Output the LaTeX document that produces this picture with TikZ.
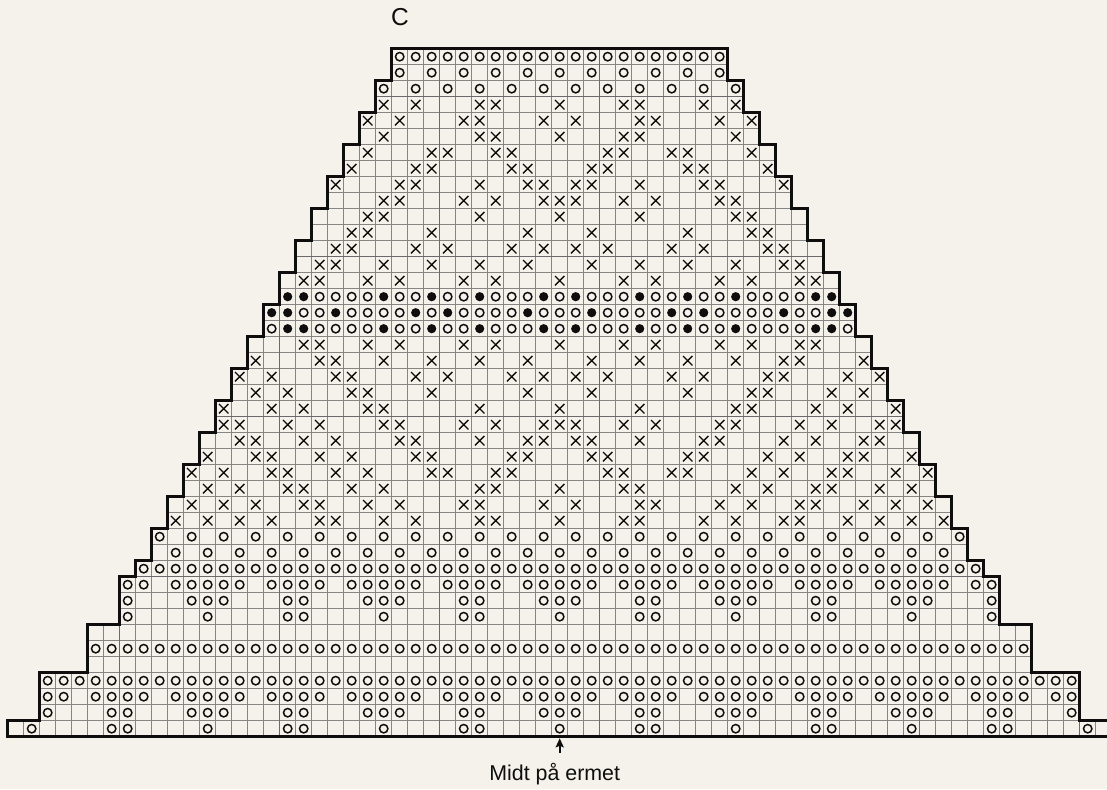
\documentclass[tikz,border=0pt]{standalone}
\usepackage{fontspec}
\setmainfont{Liberation Sans}
\usetikzlibrary{arrows.meta}
\definecolor{paper}{HTML}{F4F2EA}
\definecolor{gridgray}{HTML}{858583}
\definecolor{gridbold}{HTML}{6A6A6A}
\definecolor{ink}{HTML}{0E0E0E}
\tikzset{
  thingrid/.style={draw=gridgray,line width=1pt},
  boldgrid/.style={draw=gridbold,line width=1.4pt},
  outline/.style={draw=ink,line width=3.4pt,line join=miter},
  ringsym/.style={draw=ink,line width=1.5pt},
  crosssym/.style={draw=ink,line width=1.3pt},
  dotsym/.style={fill=ink,draw=none},
  label/.style={text=ink,font=\fontsize{21.4pt}{25pt}\selectfont,inner sep=0pt,anchor=base},
}
\newcommand\OO[2]{\foreach \cc in {#2}{\draw[ringsym] (\cc+.5,#1+.5) circle[radius=4.2pt];}}
\newcommand\BB[2]{\foreach \cc in {#2}{\fill[dotsym] (\cc+.5,#1+.5) circle[radius=4.6pt];}}
\newcommand\XX[2]{\foreach \cc in {#2}{\draw[crosssym] (\cc+.5,#1+.5) +(-4.7pt,-4.7pt) -- +(4.7pt,4.7pt) +(-4.7pt,4.7pt) -- +(4.7pt,-4.7pt);}}
\begin{document}
\begin{tikzpicture}[x=1pt,y=1pt]
\useasboundingbox (0,0) rectangle (1107,789);
\fill[paper] (0,0) rectangle (1107,789);
\clip (0,0) rectangle (1107,789);
\begin{scope}[shift={(7.7pt,52.3pt)},x=16pt,y=16pt]
% thin grid, row by row: row number / left edge of the row
\foreach \r/\L in {0/0,1/2,2/2,3/2,4/5,5/5,6/5,7/7,8/7,9/7,10/8,11/9,12/9,13/10,14/10,15/11,16/11,17/12,18/12,19/13,20/13,21/14,22/14,23/15,24/15,25/16,26/16,27/17,28/17,29/18,30/18,31/19,32/19,33/20,34/20,35/21,36/21,37/22,38/22,39/23,40/23,41/24,42/24}{
  \pgfmathtruncatemacro\RR{69-\L}
  \pgfmathtruncatemacro\Top{\r+1}
  \draw[thingrid] (\L,\Top) -- (\RR,\Top);
  \foreach \k in {\L,...,\RR}{\draw[thingrid] (\k,\r) -- (\k,\Top);}
}
% every tenth line
\foreach \k/\t in {7/10,17/29,27/43,37/43,47/39,57/19,67/4}{\draw[boldgrid] (\k,0) -- (\k,\t);}
\foreach \h/\a/\b in {10/7/62,20/13/56,30/18/51,40/23/46}{\draw[boldgrid,line width=1.15pt] (\a,\h) -- (\b,\h);}
% symbols
\OO{0}{1,6,7,12,17,18,23,28,29,34,39,40,45,50,51,56,61,62,67}
\OO{1}{2,6,7,11,12,13,17,18,22,23,24,28,29,33,34,35,39,40,44,45,46,50,51,55,56,57,61,62,66}
\OO{2}{2,3,5,6,7,8,10,11,12,13,14,16,17,18,19,21,22,23,24,25,27,28,29,30,32,33,34,35,36,38,39,40,41,43,44,45,46,47,49,50,51,52,54,55,56,57,58,60,61,62,63,65,66}
\OO{3}{2,3,...,66}
\OO{5}{5,6,...,63}
\OO{7}{7,12,17,18,23,28,29,34,39,40,45,50,51,56,61}
\OO{8}{7,11,12,13,17,18,22,23,24,28,29,33,34,35,39,40,44,45,46,50,51,55,56,57,61}
\OO{9}{7,8,10,11,12,13,14,16,17,18,19,21,22,23,24,25,27,28,29,30,32,33,34,35,36,38,39,40,41,43,44,45,46,47,49,50,51,52,54,55,56,57,58,60,61}
\OO{10}{8,9,...,60}
\OO{11}{10,12,...,58}
\OO{12}{9,11,...,59}
\XX{13}{10,12,14,16,19,20,23,25,29,30,34,38,39,43,45,48,49,52,54,56,58}
\XX{14}{11,13,15,18,19,22,24,28,29,33,35,39,40,44,46,49,50,53,55,57}
\XX{15}{12,14,17,18,21,23,29,30,34,38,39,45,47,50,51,54,56}
\XX{16}{11,13,16,17,20,22,26,27,30,31,37,38,41,42,46,48,51,52,55,57}
\XX{17}{12,15,16,19,21,25,26,31,32,36,37,42,43,47,49,52,53,56}
\XX{18}{14,15,18,20,24,25,29,32,33,35,36,39,43,44,48,50,53,54}
\XX{19}{13,14,17,19,23,24,28,30,33,34,35,38,40,44,45,49,51,54,55}
\XX{20}{13,16,18,22,23,29,34,39,45,46,50,52,55}
\XX{21}{15,17,21,22,26,32,36,42,46,47,51,53}
\XX{22}{14,16,20,21,25,27,31,33,35,37,41,43,47,48,52,54}
\XX{23}{15,19,20,23,26,29,32,36,39,42,45,48,49,53}
\XX{24}{18,19,22,24,28,30,34,38,40,44,46,49,50}
\OO{25}{16,19,20,21,22,24,25,27,28,30,31,32,34,36,37,38,40,41,43,44,46,47,48,49,52}
\BB{25}{17,18,23,26,29,33,35,39,42,45,50,51}
\OO{26}{18,19,21,22,23,24,26,28,29,30,31,33,34,35,37,38,39,40,42,44,45,46,47,49,50}
\BB{26}{16,17,20,25,27,32,36,41,43,48,51,52}
\OO{27}{19,20,21,22,24,25,27,28,30,31,32,34,36,37,38,40,41,43,44,46,47,48,49}
\BB{27}{17,18,23,26,29,33,35,39,42,45,50,51}
\XX{28}{18,19,22,24,28,30,34,38,40,44,46,49,50}
\XX{29}{19,20,23,26,29,32,36,39,42,45,48,49}
\XX{30}{20,21,25,27,31,33,35,37,41,43,47,48}
\XX{31}{21,22,26,32,36,42,46,47}
\XX{32}{22,23,29,34,39,45,46}
\XX{33}{23,24,28,30,33,34,35,38,40,44,45}
\XX{34}{20,24,25,29,32,33,35,36,39,43,44,48}
\XX{35}{21,25,26,31,32,36,37,42,43,47}
\XX{36}{22,26,27,30,31,37,38,41,42,46}
\XX{37}{23,29,30,34,38,39,45}
\XX{38}{22,24,28,29,33,35,39,40,44,46}
\XX{39}{23,25,29,30,34,38,39,43,45}
\OO{40}{23,25,...,45}
\OO{41}{24,26,...,44}
\OO{42}{24,25,...,44}
% outline
\draw[outline] (0,0) -- (0,1) -- (2,1) -- (2,4) -- (5,4) -- (5,7) -- (7,7) -- (7,10) -- (8,10) -- (8,11) -- (9,11) -- (9,13) -- (10,13) -- (10,15) -- (11,15) -- (11,17) -- (12,17) -- (12,19) -- (13,19) -- (13,21) -- (14,21) -- (14,23) -- (15,23) -- (15,25) -- (16,25) -- (16,27) -- (17,27) -- (17,29) -- (18,29) -- (18,31) -- (19,31) -- (19,33) -- (20,33) -- (20,35) -- (21,35) -- (21,37) -- (22,37) -- (22,39) -- (23,39) -- (23,41) -- (24,41) -- (24,43) -- (45,43) -- (45,41) -- (46,41) -- (46,39) -- (47,39) -- (47,37) -- (48,37) -- (48,35) -- (49,35) -- (49,33) -- (50,33) -- (50,31) -- (51,31) -- (51,29) -- (52,29) -- (52,27) -- (53,27) -- (53,25) -- (54,25) -- (54,23) -- (55,23) -- (55,21) -- (56,21) -- (56,19) -- (57,19) -- (57,17) -- (58,17) -- (58,15) -- (59,15) -- (59,13) -- (60,13) -- (60,11) -- (61,11) -- (61,10) -- (62,10) -- (62,7) -- (64,7) -- (64,4) -- (67,4) -- (67,1) -- (69,1) -- (69,0) -- cycle;
\coordinate (tip) at (34.5,-0.1);
\coordinate (tail) at (34.5,-1);
\end{scope}
\draw[ink,line width=1.9pt,-{Stealth[length=9pt,width=8pt,inset=1.5pt]}] (tail) -- (tip);
\node[label,font=\fontsize{24.5pt}{28pt}\selectfont] (title) at (400,763.5) {C};
\node[label] (mid) at (554.7,9) {Midt på ermet};
\end{tikzpicture}
\end{document}
